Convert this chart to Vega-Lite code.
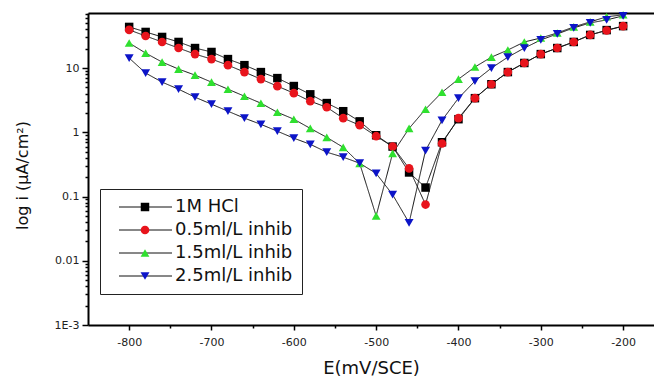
{
  "$schema": "https://vega.github.io/schema/vega-lite/v6.json",
  "width": 566,
  "height": 312,
  "autosize": "none",
  "padding": {"left": 88, "top": 13, "right": 0, "bottom": 51},
  "background": "white",
  "config": {
    "view": {"stroke": null},
    "font": "DejaVu Sans",
    "axis": {"domainColor": "black", "domainWidth": 2, "tickColor": "black", "tickWidth": 1.5, "grid": false, "labelFont": "DejaVu Sans", "labelFontSize": 11, "labelColor": "#222", "titleFont": "DejaVu Sans", "titleFontWeight": "normal", "titleColor": "#111"}
  },
  "datasets": {
    "curves": [
      {"E": -800, "i": 43.7, "series": "1M HCl"}, {"E": -780, "i": 36.5, "series": "1M HCl"}, {"E": -760, "i": 30.5, "series": "1M HCl"}, {"E": -740, "i": 25.5, "series": "1M HCl"}, {"E": -720, "i": 20.5, "series": "1M HCl"}, {"E": -700, "i": 17.8, "series": "1M HCl"}, {"E": -680, "i": 13.8, "series": "1M HCl"}, {"E": -660, "i": 11.1, "series": "1M HCl"}, {"E": -640, "i": 8.66, "series": "1M HCl"}, {"E": -620, "i": 6.98, "series": "1M HCl"}, {"E": -600, "i": 5.25, "series": "1M HCl"}, {"E": -580, "i": 3.9, "series": "1M HCl"}, {"E": -560, "i": 2.85, "series": "1M HCl"}, {"E": -540, "i": 2.13, "series": "1M HCl"}, {"E": -520, "i": 1.48, "series": "1M HCl"}, {"E": -500, "i": 0.9, "series": "1M HCl"}, {"E": -480, "i": 0.6, "series": "1M HCl"}, {"E": -460, "i": 0.237, "series": "1M HCl"}, {"E": -440, "i": 0.138, "series": "1M HCl"}, {"E": -420, "i": 0.7, "series": "1M HCl"}, {"E": -400, "i": 1.6, "series": "1M HCl"}, {"E": -380, "i": 3.4, "series": "1M HCl"}, {"E": -360, "i": 5.6, "series": "1M HCl"}, {"E": -340, "i": 8.66, "series": "1M HCl"}, {"E": -320, "i": 12.0, "series": "1M HCl"}, {"E": -300, "i": 16.5, "series": "1M HCl"}, {"E": -280, "i": 20.5, "series": "1M HCl"}, {"E": -260, "i": 25.5, "series": "1M HCl"}, {"E": -240, "i": 32.8, "series": "1M HCl"}, {"E": -220, "i": 39.0, "series": "1M HCl"}, {"E": -200, "i": 45.0, "series": "1M HCl"},
      {"E": -800, "i": 39.3, "series": "0.5ml/L inhib"}, {"E": -780, "i": 31.6, "series": "0.5ml/L inhib"}, {"E": -760, "i": 25.5, "series": "0.5ml/L inhib"}, {"E": -740, "i": 20.5, "series": "0.5ml/L inhib"}, {"E": -720, "i": 16.5, "series": "0.5ml/L inhib"}, {"E": -700, "i": 13.8, "series": "0.5ml/L inhib"}, {"E": -680, "i": 11.1, "series": "0.5ml/L inhib"}, {"E": -660, "i": 8.66, "series": "0.5ml/L inhib"}, {"E": -640, "i": 6.73, "series": "0.5ml/L inhib"}, {"E": -620, "i": 5.23, "series": "0.5ml/L inhib"}, {"E": -600, "i": 4.07, "series": "0.5ml/L inhib"}, {"E": -580, "i": 3.05, "series": "0.5ml/L inhib"}, {"E": -560, "i": 2.45, "series": "0.5ml/L inhib"}, {"E": -540, "i": 1.66, "series": "0.5ml/L inhib"}, {"E": -520, "i": 1.29, "series": "0.5ml/L inhib"}, {"E": -500, "i": 0.87, "series": "0.5ml/L inhib"}, {"E": -480, "i": 0.6, "series": "0.5ml/L inhib"}, {"E": -460, "i": 0.274, "series": "0.5ml/L inhib"}, {"E": -440, "i": 0.075, "series": "0.5ml/L inhib"}, {"E": -420, "i": 0.67, "series": "0.5ml/L inhib"}, {"E": -400, "i": 1.66, "series": "0.5ml/L inhib"}, {"E": -380, "i": 3.4, "series": "0.5ml/L inhib"}, {"E": -360, "i": 5.6, "series": "0.5ml/L inhib"}, {"E": -340, "i": 8.66, "series": "0.5ml/L inhib"}, {"E": -320, "i": 12.0, "series": "0.5ml/L inhib"}, {"E": -300, "i": 16.5, "series": "0.5ml/L inhib"}, {"E": -280, "i": 20.5, "series": "0.5ml/L inhib"}, {"E": -260, "i": 25.5, "series": "0.5ml/L inhib"}, {"E": -240, "i": 32.8, "series": "0.5ml/L inhib"}, {"E": -220, "i": 38.5, "series": "0.5ml/L inhib"}, {"E": -200, "i": 45.0, "series": "0.5ml/L inhib"},
      {"E": -800, "i": 24.6, "series": "1.5ml/L inhib"}, {"E": -780, "i": 17.1, "series": "1.5ml/L inhib"}, {"E": -760, "i": 12.4, "series": "1.5ml/L inhib"}, {"E": -740, "i": 9.64, "series": "1.5ml/L inhib"}, {"E": -720, "i": 7.77, "series": "1.5ml/L inhib"}, {"E": -700, "i": 6.04, "series": "1.5ml/L inhib"}, {"E": -680, "i": 4.69, "series": "1.5ml/L inhib"}, {"E": -660, "i": 3.65, "series": "1.5ml/L inhib"}, {"E": -640, "i": 2.84, "series": "1.5ml/L inhib"}, {"E": -620, "i": 2.05, "series": "1.5ml/L inhib"}, {"E": -600, "i": 1.6, "series": "1.5ml/L inhib"}, {"E": -580, "i": 1.15, "series": "1.5ml/L inhib"}, {"E": -560, "i": 0.835, "series": "1.5ml/L inhib"}, {"E": -540, "i": 0.583, "series": "1.5ml/L inhib"}, {"E": -520, "i": 0.328, "series": "1.5ml/L inhib"}, {"E": -500, "i": 0.05, "series": "1.5ml/L inhib"}, {"E": -480, "i": 0.47, "series": "1.5ml/L inhib"}, {"E": -460, "i": 1.15, "series": "1.5ml/L inhib"}, {"E": -440, "i": 2.29, "series": "1.5ml/L inhib"}, {"E": -420, "i": 4.2, "series": "1.5ml/L inhib"}, {"E": -400, "i": 6.73, "series": "1.5ml/L inhib"}, {"E": -380, "i": 10.4, "series": "1.5ml/L inhib"}, {"E": -360, "i": 14.8, "series": "1.5ml/L inhib"}, {"E": -340, "i": 19.1, "series": "1.5ml/L inhib"}, {"E": -320, "i": 25.5, "series": "1.5ml/L inhib"}, {"E": -300, "i": 29.4, "series": "1.5ml/L inhib"}, {"E": -280, "i": 35.2, "series": "1.5ml/L inhib"}, {"E": -260, "i": 43.7, "series": "1.5ml/L inhib"}, {"E": -240, "i": 52.4, "series": "1.5ml/L inhib"}, {"E": -220, "i": 62.8, "series": "1.5ml/L inhib"}, {"E": -200, "i": 67.5, "series": "1.5ml/L inhib"},
      {"E": -800, "i": 14.3, "series": "2.5ml/L inhib"}, {"E": -780, "i": 8.36, "series": "2.5ml/L inhib"}, {"E": -760, "i": 6.04, "series": "2.5ml/L inhib"}, {"E": -740, "i": 4.69, "series": "2.5ml/L inhib"}, {"E": -720, "i": 3.52, "series": "2.5ml/L inhib"}, {"E": -700, "i": 2.74, "series": "2.5ml/L inhib"}, {"E": -680, "i": 2.13, "series": "2.5ml/L inhib"}, {"E": -660, "i": 1.66, "series": "2.5ml/L inhib"}, {"E": -640, "i": 1.33, "series": "2.5ml/L inhib"}, {"E": -620, "i": 1.04, "series": "2.5ml/L inhib"}, {"E": -600, "i": 0.81, "series": "2.5ml/L inhib"}, {"E": -580, "i": 0.65, "series": "2.5ml/L inhib"}, {"E": -560, "i": 0.49, "series": "2.5ml/L inhib"}, {"E": -540, "i": 0.41, "series": "2.5ml/L inhib"}, {"E": -520, "i": 0.33, "series": "2.5ml/L inhib"}, {"E": -500, "i": 0.229, "series": "2.5ml/L inhib"}, {"E": -480, "i": 0.107, "series": "2.5ml/L inhib"}, {"E": -460, "i": 0.039, "series": "2.5ml/L inhib"}, {"E": -440, "i": 0.52, "series": "2.5ml/L inhib"}, {"E": -420, "i": 1.54, "series": "2.5ml/L inhib"}, {"E": -400, "i": 3.4, "series": "2.5ml/L inhib"}, {"E": -380, "i": 6.27, "series": "2.5ml/L inhib"}, {"E": -360, "i": 10.0, "series": "2.5ml/L inhib"}, {"E": -340, "i": 14.8, "series": "2.5ml/L inhib"}, {"E": -320, "i": 20.5, "series": "2.5ml/L inhib"}, {"E": -300, "i": 27.4, "series": "2.5ml/L inhib"}, {"E": -280, "i": 34.0, "series": "2.5ml/L inhib"}, {"E": -260, "i": 42.2, "series": "2.5ml/L inhib"}, {"E": -240, "i": 50.5, "series": "2.5ml/L inhib"}, {"E": -220, "i": 56.2, "series": "2.5ml/L inhib"}, {"E": -200, "i": 65.0, "series": "2.5ml/L inhib"}
    ]
  },
  "data": {"name": "curves"},
  "encoding": {
    "y": {
      "field": "i", "type": "quantitative",
      "scale": {"type": "log", "domain": [0.001, 72], "nice": false},
      "axis": {
        "values": [0.001, 0.002, 0.003, 0.004, 0.005, 0.006, 0.007, 0.008, 0.009, 0.01, 0.02, 0.03, 0.04, 0.05, 0.06, 0.07, 0.08, 0.09, 0.1, 0.2, 0.3, 0.4, 0.5, 0.6, 0.7, 0.8, 0.9, 1, 2, 3, 4, 5, 6, 7, 8, 9, 10, 20, 30, 40, 50, 60, 70],
        "labelExpr": "datum.value == 0.001 ? '1E-3' : datum.value == 0.01 ? '0.01' : datum.value == 0.1 ? '0.1' : datum.value == 1 ? '1' : datum.value == 10 ? '10' : ''",
        "tickSize": {"condition": {"test": "indexof([0.001, 0.01, 0.1, 1, 10], datum.value) >= 0", "value": 6}, "value": 3},
        "labelPadding": 3,
        "title": "log i (μA/cm²)",
        "titleFontSize": 16,
        "titleX": -66,
        "titleY": 162,
        "titleAlign": "center",
        "titleBaseline": "middle"
      }
    }
  },
  "layer": [
    {
      "mark": {"type": "line", "color": "#111", "strokeWidth": 1},
      "encoding": {
        "x": {"field": "E", "type": "quantitative", "scale": {"domain": [-850, -162.5], "nice": false, "zero": false},
              "axis": {"orient": "top", "labels": false, "ticks": false, "title": null, "domainWidth": 2}},
        "strokeDash": {"field": "series", "type": "nominal",
          "scale": {"range": [[1, 0], [1, 0], [1, 0], [1, 0]]},
          "legend": {"title": null, "orient": "none", "legendX": 39.5, "legendY": 176, "padding": 9, "symbolType": "M-5.3,0H5.3", "symbolSize": 100, "symbolStrokeColor": "#111", "symbolFillColor": "transparent", "symbolStrokeWidth": 1, "labelExpr": "''", "labelFontSize": 18, "labelFont": "DejaVu Sans", "rowPadding": 5}}
      }
    },
    {
      "mark": {"type": "point", "filled": true, "opacity": 1, "strokeWidth": 0},
      "encoding": {
        "x": {"field": "E", "type": "quantitative", "scale": {"domain": [-850, -162.5], "nice": false, "zero": false},
              "axis": {"orient": "bottom", "values": [-800, -750, -700, -650, -600, -550, -500, -450, -400, -350, -300, -250, -200],
                       "labelExpr": "datum.value % 100 == 0 ? '' + datum.value : ''",
                       "tickSize": {"condition": {"test": "datum.value % 100 == 0", "value": 5}, "value": 3},
                       "labelPadding": 6, "title": "E(mV/SCE)", "titleFontSize": 18, "titleY": 48, "titleBaseline": "alphabetic"}},
        "color": {"field": "series", "type": "nominal",
          "scale": {"domain": ["1M HCl", "0.5ml/L inhib", "1.5ml/L inhib", "2.5ml/L inhib"], "range": ["#000000", "#e8141c", "#2fe02f", "#0c14c8"]},
          "legend": {"title": null, "orient": "none", "legendX": 12, "legendY": 176, "padding": 9, "strokeColor": "#222", "symbolOffset": 27, "labelOffset": 21, "labelFontSize": 18, "labelFont": "DejaVu Sans", "labelColor": "#111", "rowPadding": 5, "symbolStrokeWidth": 0}},
        "shape": {"field": "series", "type": "nominal",
          "scale": {"domain": ["1M HCl", "0.5ml/L inhib", "1.5ml/L inhib", "2.5ml/L inhib"], "range": ["square", "circle", "triangle-up", "triangle-down"]},
          "legend": {"title": null, "orient": "none", "legendX": 12, "legendY": 176, "padding": 9, "strokeColor": "#222", "symbolOffset": 27, "labelOffset": 21, "labelFontSize": 18, "labelFont": "DejaVu Sans", "labelColor": "#111", "rowPadding": 5, "symbolStrokeWidth": 0}},
        "size": {"field": "series", "type": "nominal",
          "scale": {"domain": ["1M HCl", "0.5ml/L inhib", "1.5ml/L inhib", "2.5ml/L inhib"], "range": [72, 80, 121, 121]},
          "legend": {"title": null, "orient": "none", "legendX": 12, "legendY": 176, "padding": 9, "strokeColor": "#222", "symbolOffset": 27, "labelOffset": 21, "labelFontSize": 18, "labelFont": "DejaVu Sans", "labelColor": "#111", "rowPadding": 5, "symbolStrokeWidth": 0}}
      }
    }
  ],
  "resolve": {"axis": {"x": "independent"}}
}
